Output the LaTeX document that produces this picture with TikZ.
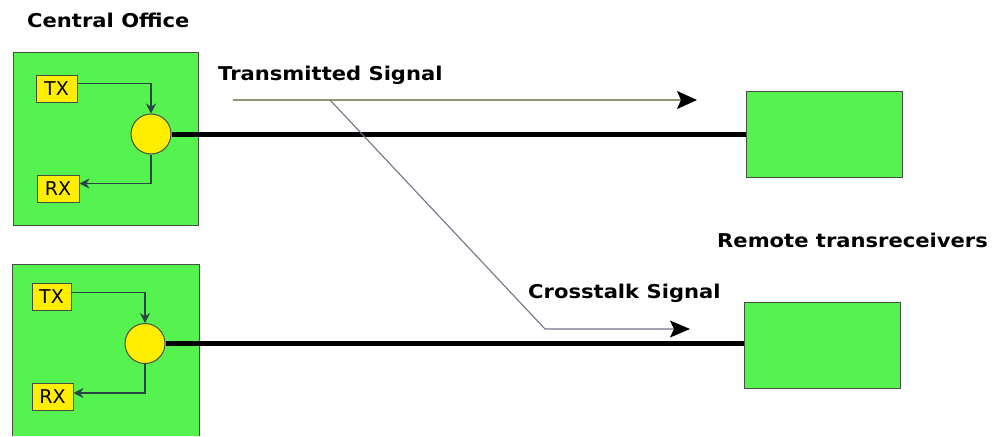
\documentclass[tikz,border=0pt]{standalone}
\usepackage{fontspec}
\setmainfont{DejaVu Sans}
\newfontfamily\ttlfont[FakeStretch=1.11]{DejaVu Sans Bold}
\usetikzlibrary{arrows.meta}
\definecolor{boxgreen}{RGB}{85,242,80}
\definecolor{cyellow}{RGB}{255,238,0}
\definecolor{boxedge}{RGB}{70,80,70}
\definecolor{linkline}{RGB}{40,70,70}
\definecolor{sigline}{RGB}{150,150,115}
\definecolor{xline}{RGB}{115,115,135}
\tikzset{
  cobox/.style={fill=boxgreen, draw=boxedge, line width=1pt, inner sep=0pt},
  rembox/.style={fill=boxgreen, draw=boxedge, line width=1pt, inner sep=0pt, minimum width=156pt, minimum height=86pt},
  lbl/.style={fill=cyellow, draw=boxedge, line width=1pt, inner sep=0pt, minimum height=27pt, font=\fontsize{19}{19}\selectfont},
  hyb/.style={circle, fill=cyellow, draw=boxedge, line width=1pt, minimum size=40pt, inner sep=0pt},
  link/.style={draw=linkline, line width=1.3pt, -{Stealth[length=10pt,width=10pt]}},
  wire/.style={line width=5pt, black},
  title/.style={font=\ttlfont\fontsize{19}{19}\selectfont, anchor=west, inner sep=0pt},
  sig/.style={draw=sigline, line width=1.3pt, -{Stealth[length=20pt,width=18pt,inset=4pt,color=black]}},
  xsig/.style={draw=xline, line width=1.1pt, -{Stealth[length=20pt,width=17pt,inset=4pt,color=black]}},
}
\begin{document}
\begin{tikzpicture}[x=1pt,y=-1pt]
\useasboundingbox (0,0) rectangle (992,436);
% central office boxes
\node[cobox, minimum width=185pt, minimum height=172pt] (co1) at (105.5,139) {};
\node[fill=boxgreen, inner sep=0pt, minimum width=186pt, minimum height=171pt] (co2) at (106,350.5) {};
\draw[boxedge, line width=1pt] (co2.south west) -- (co2.north west) -- (co2.north east) -- (co2.south east);
% remote boxes
\node[rembox] (r1) at (824,134) {};
\node[rembox] (r2) at (822,345) {};
% upper transceiver
\node[lbl, minimum width=41pt] (tx1) at (56.5,88.5) {TX};
\node[lbl, minimum width=42pt] (rx1) at (58,188.5) {RX};
\node[hyb] (c1) at (151,134) {};
\draw[link] ([yshift=5pt]tx1.east) -| (c1.north);
\draw[link] (c1.south) |- ([yshift=5pt]rx1.east);
% lower transceiver
\node[lbl, minimum width=39pt] (tx2) at (51.5,296.5) {TX};
\node[lbl, minimum width=41pt] (rx2) at (52.5,397) {RX};
\node[hyb] (c2) at (145,343.5) {};
\draw[link] ([yshift=4pt]tx2.east) -| (c2.north);
\draw[link] (c2.south) |- ([yshift=4pt]rx2.east);
% lines
\draw[wire] (c1.east) -- (r1.west);
\draw[wire] (c2.east) -- (c2.east -| r2.west);
% signals
\coordinate (ts) at (233,100);
\coordinate (te) at (697,100);
\coordinate (xs) at (330,100);
\coordinate (xk) at (545,329);
\coordinate (xe) at (690,329);
\draw[sig] (ts) -- (te);
\draw[xsig] (xs) -- (xk) -- (xe);
% titles
\node[title] (tco) at (27,20) {Central Office};
\node[title] (tts) at (218,75) {Transmitted Signal};
\node[title] (txs) at (528,293) {Crosstalk Signal};
\node[title] (trm) at (717,240) {Remote transreceivers};
\end{tikzpicture}
\end{document}
